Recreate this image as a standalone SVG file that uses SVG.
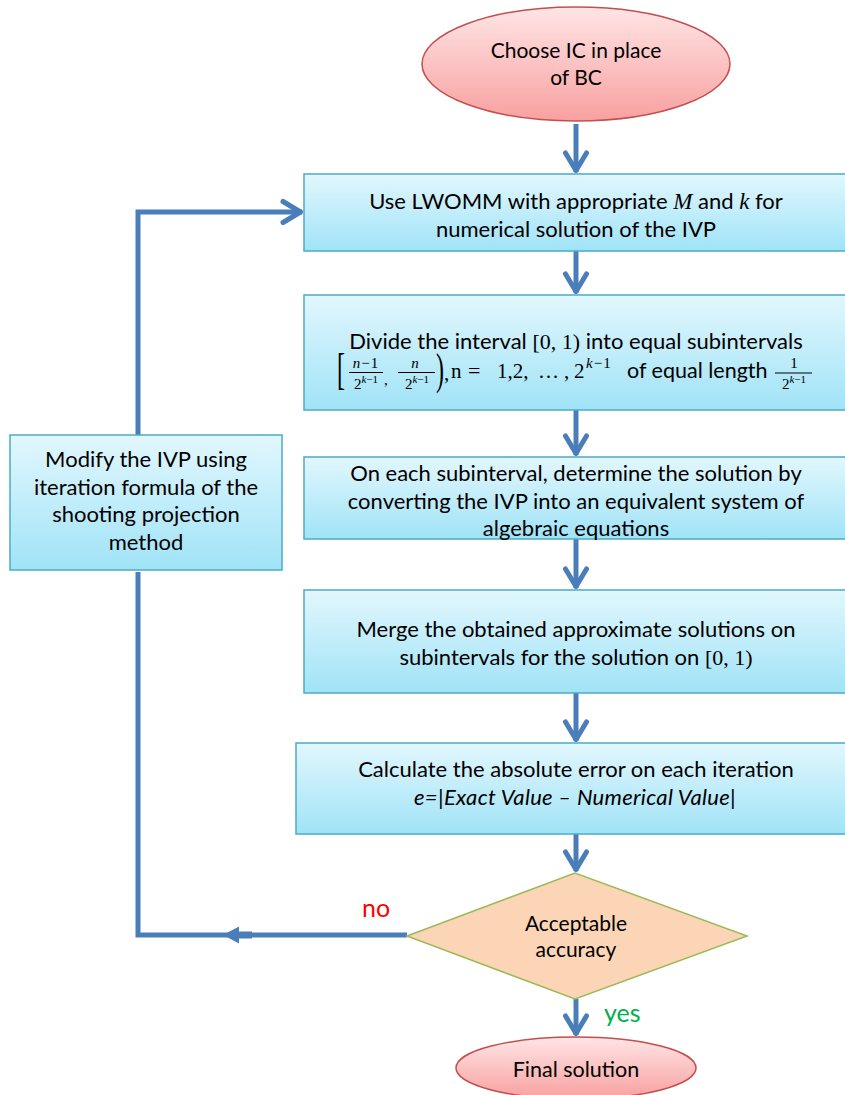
<svg xmlns="http://www.w3.org/2000/svg" width="845" height="1095" viewBox="0 0 845 1095">
<defs>
<linearGradient id="gBox" x1="0" y1="0" x2="0" y2="1"><stop offset="0" stop-color="#E2F7FD"/><stop offset="1" stop-color="#A0E3F7"/></linearGradient>
<linearGradient id="gEll" x1="0" y1="0" x2="0" y2="1"><stop offset="0" stop-color="#FFE5E5"/><stop offset="1" stop-color="#F8A0A0"/></linearGradient>
<marker id="open" markerUnits="userSpaceOnUse" markerWidth="30" markerHeight="30" viewBox="-25 -15 30 30" refX="0" refY="0" orient="auto" overflow="visible"><path d="M-19,-10.5 L-1.5,0 L-19,10.5" fill="none" stroke="#4A7EBB" stroke-width="5" stroke-linecap="round" stroke-linejoin="round"/></marker>
</defs>
<style>
.box{fill:url(#gBox);stroke:#4BACC6;stroke-width:1.5}
.ell{fill:url(#gEll);stroke:#C0504D;stroke-width:1.5}
.dia{fill:#FBD5B5;stroke:#9BBB59;stroke-width:1.5}
.t{font-family:Lato,"Liberation Sans",sans-serif;font-size:22px;fill:#000;text-anchor:middle}
.t21{font-size:21px}
.s{font-family:Lato,"Liberation Sans",sans-serif;font-size:21.5px;fill:#000}
.m{font-family:"Liberation Serif",serif;fill:#000}
.mi{font-family:"Liberation Serif",serif;font-style:italic}
.c{font-size:15px;text-anchor:middle}
.sup{font-size:11px}
.bar{stroke:#000;stroke-width:1}
.conn{stroke:#4A7EBB;stroke-width:5;fill:none}
.lbl{font-family:Lato,"Liberation Sans",sans-serif;font-size:25px}
</style>

<g id="connectors">
<path class="conn" d="M576,124 V172" marker-end="url(#open)"/>
<path class="conn" d="M576,251 V293" marker-end="url(#open)"/>
<path class="conn" d="M576,410 V455" marker-end="url(#open)"/>
<path class="conn" d="M576,539 V588" marker-end="url(#open)"/>
<path class="conn" d="M576,693 V741" marker-end="url(#open)"/>
<path class="conn" d="M576,834 V871" marker-end="url(#open)"/>
<path class="conn" d="M576,999 V1035" marker-end="url(#open)"/>
<path class="conn" d="M407,935 H138 V572"/>
<polygon fill="#4A7EBB" points="223,935 239,926.5 239,931.5 252,931.5 252,938.5 239,938.5 239,943.5"/>
<path class="conn" d="M138,435 V212 H302" marker-end="url(#open)"/>
<text class="lbl" x="362" y="917" fill="#FF0000">no</text>
<text class="lbl" x="604" y="1022" fill="#00B050">yes</text>
</g>

<g id="start">
<ellipse class="ell" cx="576" cy="64" rx="154" ry="57"/>
<text class="t t21" x="576" y="58">Choose IC in place</text>
<text class="t t21" x="576" y="85">of BC</text>
</g>

<g id="lwomm">
<rect class="box" x="304" y="174" width="546" height="77"/>
<text class="t" x="576" y="209">Use LWOMM with appropriate <tspan class="mi" font-size="23">M</tspan> and <tspan class="mi" font-size="23">k</tspan> for</text>
<text class="t" x="576" y="237">numerical solution of the IVP</text>
</g>

<g id="divide">
<rect class="box" x="304" y="295" width="546" height="115"/>
<text class="t" x="576" y="349">Divide the interval <tspan class="m" font-size="22">[0, 1)</tspan> into equal subintervals</text>
<text class="m" transform="translate(337,384) scale(0.6,1.1)" font-size="40">[</text>
<text class="m c" x="366" y="368" letter-spacing="1"><tspan class="mi">n</tspan>−1</text>
<line class="bar" x1="349" y1="372.5" x2="383" y2="372.5"/>
<text class="m c" x="366" y="389">2<tspan class="mi sup" dy="-6">k</tspan><tspan class="sup">−1</tspan></text>
<text class="m" x="384" y="385" font-size="15">,</text>
<text class="m c" x="415" y="368"><tspan class="mi">n</tspan></text>
<line class="bar" x1="398" y1="372.5" x2="435" y2="372.5"/>
<text class="m c" x="417" y="389">2<tspan class="mi sup" dy="-6">k</tspan><tspan class="sup">−1</tspan></text>
<text class="m" transform="translate(436,384) scale(0.6,1.1)" font-size="40">)</text>
<text class="m" x="444" y="380" font-size="21">,</text>
<text class="m" x="451" y="378" font-size="21">n</text>
<text class="m" x="468" y="378" font-size="22">=</text>
<text class="m" x="497" y="378" font-size="21">1,2,</text>
<text class="m" x="538" y="378" font-size="21">…</text>
<text class="m" x="564" y="378" font-size="21">,</text>
<text class="m" x="574" y="378" font-size="21">2</text>
<text class="m" x="586" y="368" font-size="15" letter-spacing="1"><tspan class="mi">k</tspan>−1</text>
<text class="s" x="627" y="378">of equal length</text>
<text class="m c" x="794" y="368">1</text>
<line class="bar" x1="775" y1="373" x2="812" y2="373"/>
<text class="m c" x="794" y="389">2<tspan class="mi sup" dy="-6">k</tspan><tspan class="sup">−1</tspan></text>
</g>

<g id="subinterval">
<rect class="box" x="304" y="457" width="546" height="82"/>
<text class="t" x="576" y="481">On each subinterval, determine the solution by</text>
<text class="t" x="576" y="509">converting the IVP into an equivalent system of</text>
<text class="t" x="576" y="536">algebraic equations</text>
</g>

<g id="merge">
<rect class="box" x="304" y="590" width="546" height="103"/>
<text class="t" x="576" y="637">Merge the obtained approximate solutions on</text>
<text class="t" x="576" y="665">subintervals for the solution on <tspan class="m" font-size="22">[0, 1)</tspan></text>
</g>

<g id="error">
<rect class="box" x="296" y="743" width="554" height="91"/>
<text class="t" x="576" y="777">Calculate the absolute error on each iteration</text>
<text class="t" x="575" y="805" font-style="italic" letter-spacing="0.3">e=|Exact Value – Numerical Value|</text>
</g>

<g id="decision">
<polygon class="dia" points="407,936 575,873 747,936 575,999"/>
<text class="t t21" x="576" y="931">Acceptable</text>
<text class="t t21" x="576" y="957">accuracy</text>
</g>

<g id="modify">
<rect class="box" x="10" y="435" width="272" height="135"/>
<text class="t" x="146" y="467">Modify the IVP using</text>
<text class="t" x="146" y="495">iteration formula of the</text>
<text class="t" x="146" y="522">shooting projection</text>
<text class="t" x="146" y="550">method</text>
</g>

<g id="final">
<ellipse class="ell" cx="576" cy="1068" rx="120" ry="31"/>
<text class="t" x="576" y="1077" style="font-size:21.5px">Final solution</text>
</g>
</svg>
